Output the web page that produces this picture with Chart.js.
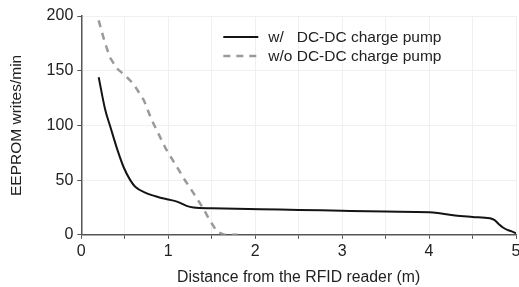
<!DOCTYPE html>
<html>
<head>
<meta charset="utf-8">
<script src="https://cdn.jsdelivr.net/npm/chart.js@4/dist/chart.umd.min.js"></script>
<style>
  html, body { margin: 0; padding: 0; background: #fff; overflow: hidden; }
  #wrap { width: 519px; height: 287px; overflow: hidden; }
  #box { width: 530px; height: 287px; }
</style>
</head>
<body>
<div id="wrap"><div id="box"><canvas id="chart"></canvas></div></div>
<script>
// distance (m) / writes per minute
const distWith = [0.2, 0.276, 0.333, 0.41, 0.486, 0.563, 0.62, 0.735, 0.89, 1.0, 1.1, 1.21, 1.29, 1.5, 2.06, 2.5, 3.0, 3.5, 4.0, 4.1, 4.3, 4.5, 4.7, 4.75, 4.8, 4.85, 4.9, 4.95, 5.0];
const ratesWith = [144, 114, 99, 79, 62, 50, 44, 38.6, 34.4, 32.3, 30.4, 26.5, 25, 24.3, 23.4, 22.8, 22, 21.3, 20.7, 20, 17.6, 16.4, 15.2, 13.7, 10, 6.7, 4.5, 3.2, 1.5];

const distWithout = [0.2, 0.27, 0.33, 0.41, 0.5, 0.6, 0.72, 0.81, 0.97, 1.1, 1.2, 1.3, 1.4, 1.48, 1.56, 1.65, 1.8];
const ratesWithout = [196, 176, 162, 152, 146, 138, 123, 105, 79, 62, 49, 37, 24.5, 13, 3, 0, 0];

const seriesNames = ['w/   DC-DC charge pump', 'w/o DC-DC charge pump'];
const xTickLabels = ['0', '1', '2', '3', '4', '5'];
const yTickLabels = ['0', '50', '100', '150', '200'];

const FONT = 'Arial, "Liberation Sans", sans-serif';
const toPoints = (xs, ys) => xs.map((x, i) => ({ x, y: ys[i] }));

// legend sits inside the plot, upper right
const legendInside = {
  id: 'legendInside',
  afterDraw(chart) {
    const ctx = chart.ctx;
    const a = chart.chartArea;
    const ds = chart.data.datasets;
    ctx.save();
    ctx.font = '15.5px ' + FONT;
    ctx.textBaseline = 'middle';
    ds.forEach((d, i) => {
      const y = a.top + 21 + i * 19;
      const x0 = a.left + 142;
      ctx.strokeStyle = d.borderColor;
      ctx.lineWidth = d.borderWidth;
      ctx.setLineDash(d.borderDash || []);
      ctx.beginPath();
      ctx.moveTo(x0, y);
      ctx.lineTo(x0 + 35, y);
      ctx.stroke();
      ctx.setLineDash([]);
      ctx.fillStyle = '#222';
      ctx.fillText(d.label, x0 + 45, y + 1);
    });
    ctx.restore();
  }
};

new Chart(document.getElementById('chart'), {
  type: 'line',
  data: {
    datasets: [{
      label: seriesNames[0],
      data: toPoints(distWith, ratesWith),
      borderColor: '#141414',
      borderWidth: 2,
      pointRadius: 0,
      cubicInterpolationMode: 'monotone',
      fill: false
    }, {
      label: seriesNames[1],
      data: toPoints(distWithout, ratesWithout),
      borderColor: '#9a9a9a',
      borderWidth: 2.5,
      borderDash: [7, 6],
      pointRadius: 0,
      tension: 0,
      fill: false
    }]
  },
  options: {
    responsive: true,
    maintainAspectRatio: false,
    animation: false,
    layout: { padding: { left: 7, right: 14, top: 16, bottom: 0 } },
    plugins: { legend: { display: false }, tooltip: { enabled: false } },
    scales: {
      x: {
        type: 'linear',
        min: 0, max: 5,
        border: { color: '#555', width: 1.5 },
        grid: {
          color: '#f0f0f0',
          tickColor: '#555',
          tickLength: 4
        },
        ticks: {
          stepSize: 0.5,
          autoSkip: false,
          maxRotation: 0,
          padding: 3,
          color: '#222',
          font: { family: FONT, size: 16 },
          callback: v => Number.isInteger(v) ? xTickLabels[v] : ''
        },
        title: {
          display: true,
          text: 'Distance from the RFID reader (m)',
          color: '#222',
          font: { family: FONT, size: 15.8 },
          padding: { top: 4, bottom: 0 }
        }
      },
      y: {
        min: 0, max: 200,
        border: { color: '#555', width: 1.5 },
        grid: {
          color: '#f0f0f0',
          tickColor: '#555',
          tickLength: 4
        },
        ticks: {
          stepSize: 50,
          padding: 4,
          color: '#222',
          font: { family: FONT, size: 16 },
          callback: v => yTickLabels[v / 50]
        },
        title: {
          display: true,
          text: 'EEPROM writes/min',
          color: '#222',
          font: { family: FONT, size: 15.5 },
          padding: { top: 0, bottom: 17 }
        }
      }
    }
  },
  plugins: [legendInside]
});
</script>
</body>
</html>
